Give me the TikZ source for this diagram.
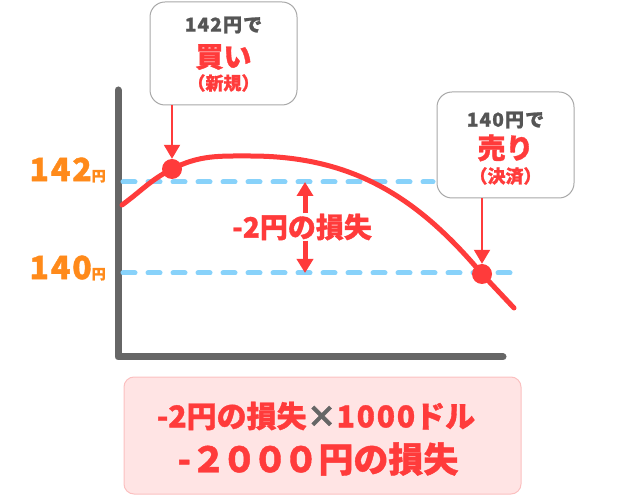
\documentclass[tikz,border=0pt]{standalone}
\usepackage{fontspec}
\setmainfont{Noto Sans CJK JP}[BoldFeatures={FakeBold=1.2}]
\usetikzlibrary{arrows.meta,positioning}
\definecolor{lossred}{HTML}{FF3B3B}
\definecolor{priceorange}{HTML}{FF8A1A}
\definecolor{guideblue}{HTML}{88D2FA}
\definecolor{axisgray}{HTML}{666666}
\definecolor{notegray}{HTML}{A8A8A8}
\definecolor{textgray}{HTML}{555555}
\definecolor{sumfill}{HTML}{FFE4E4}
\definecolor{sumline}{HTML}{FBC0C0}
\newcommand{\fs}[1]{\fontsize{#1}{#1}\selectfont}
\newcommand{\wide}{\addfontfeature{LetterSpace=6}}
\newcommand{\tight}{\addfontfeature{LetterSpace=-12}}

\begin{document}
\begin{tikzpicture}[x=1pt,y=1pt,
  every node/.style={font=\bfseries, inner sep=0pt},
  axis/.style={axisgray, line width=7pt, line cap=round, line join=round},
  guide/.style={guideblue, line width=5pt, line cap=round, dash pattern=on 12pt off 13pt},
  curve/.style={lossred, line width=5pt, line cap=round},
  dot/.style={circle, fill=lossred, minimum size=20pt},
  note/.style={draw=notegray, line width=1pt, fill=white, rounded corners=15pt},
  pointer/.style={lossred, line width=2pt, -{Triangle[width=16pt,length=14pt]}},
  gap/.style={lossred, line width=5pt, -{Triangle[width=16pt,length=14pt]}},
  price/.style={priceorange, anchor=east}]
  \useasboundingbox (0,0) rectangle (620,495);
  \draw[axis] (118,405) -- (118,138) -- (503,138);
  \coordinate (hi) at (305,313);
  \coordinate (lo) at (305,222);
  \draw[guide] (123,313) -- (433,313);
  \draw[guide] (123,222) -- (510,222);
  \node[price] (p142) at (106,325) {\fs{32}\wide 142\fs{14}円};
  \node[price] (p140) at (106,227) {\fs{32}\wide 140\fs{14}円};
  \coordinate (start) at (122,290);
  \coordinate (peak) at (250,339);
  \coordinate (stop) at (514,187);
  \node[dot] (buy) at (172,326) {};
  \node[dot] (sell) at (482,221) {};
  \draw[curve] (start) to[out=36,in=207] (buy.center) to[out=27,in=180] (peak)
    to[out=0,in=130] (sell.center) -- (stop);
  \node[note, minimum width=147pt, minimum height=103pt] (buybox) at (223.5,441.5) {};
  \node[textgray] (buyprice) at (223.5,470) {\fs{19}\wide 142円で};
  \node[lossred] (buyword) at (223.5,438) {\fs{28}買い};
  \node[lossred] (buykind) at (223.5,412) {\fs{18}（新規）};
  \node[note, minimum width=137pt, minimum height=106pt] (sellbox) at (505.5,350) {};
  \node[textgray] (sellprice) at (505.5,375) {\fs{19}\wide 140円で};
  \node[lossred] (sellword) at (505.5,347) {\fs{28}売り};
  \node[lossred] (sellkind) at (505.5,319) {\fs{18}（決済）};
  \draw[pointer] (buybox.south -| buy) -- (buy.north);
  \draw[pointer] (sellbox.south -| sell) -- (sell.north);
  \node[lossred] (loss) at (302,268) {\fs{28}-2円の損失};
  \draw[gap] (loss.north -| hi) -- (hi);
  \draw[gap] (loss.south -| lo) -- (lo);
  \node[draw=sumline, fill=sumfill, line width=1pt, rounded corners=10pt,
    minimum width=397pt, minimum height=117pt] (sum) at (322.5,59.5) {};
  \node[lossred] (sumline1) at (316,79) {\fs{30}-2円の損失{\color{axisgray}×}{\wide 1000}ドル};
  \node[lossred] (sumline2) at (318,36) {\fs{35}-{\tight ２０００}円の損失};
\end{tikzpicture}
\end{document}
